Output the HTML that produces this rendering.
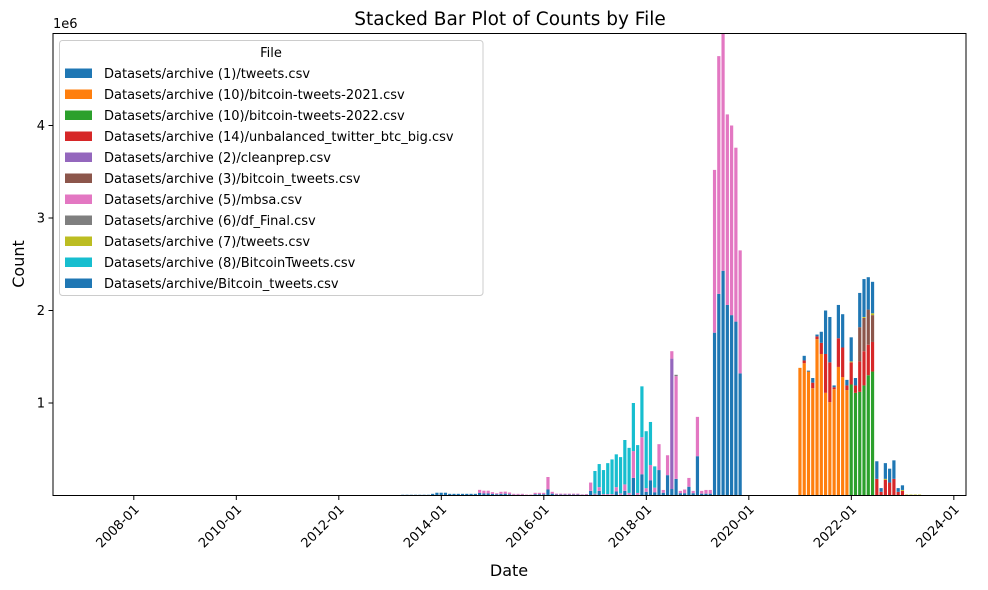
<!DOCTYPE html>
<html><head><meta charset="utf-8"><style>
html,body{margin:0;padding:0;background:#fff;}
svg{display:block;font-family:"DejaVu Sans","Liberation Sans",sans-serif;}
</style></head><body>
<svg id="chart" width="988" height="590" viewBox="0 0 988 590" xmlns="http://www.w3.org/2000/svg">
<rect width="988" height="590" fill="#fff"/>
<text x="510" y="25" font-size="18.5" text-anchor="middle">Stacked Bar Plot of Counts by File</text>
<text x="53" y="28" font-size="13">1e6</text>
<defs><clipPath id="plotclip"><rect x="53" y="33.5" width="913" height="462"/></clipPath></defs>
<g id="bars" clip-path="url(#plotclip)"></g>
<rect x="53" y="33.5" width="913" height="462" fill="none" stroke="#000" stroke-width="1"/>
<g id="xaxis"></g>
<g id="yaxis"></g>
<text x="509" y="576" font-size="16" text-anchor="middle">Date</text>
<text x="24" y="264" font-size="16" text-anchor="middle" transform="rotate(-90 24 264)">Count</text>
<g id="legend"></g>
</svg>
<script>
// ---- data (values in thousands), months start 2013-03, 122 months ----
const startYear = 2013, startMonth = 3, monthCount = 122;
const seriesNames = ["Datasets/archive (1)/tweets.csv","Datasets/archive (10)/bitcoin-tweets-2021.csv","Datasets/archive (10)/bitcoin-tweets-2022.csv","Datasets/archive (14)/unbalanced_twitter_btc_big.csv","Datasets/archive (2)/cleanprep.csv","Datasets/archive (3)/bitcoin_tweets.csv","Datasets/archive (5)/mbsa.csv","Datasets/archive (6)/df_Final.csv","Datasets/archive (7)/tweets.csv","Datasets/archive (8)/BitcoinTweets.csv","Datasets/archive/Bitcoin_tweets.csv"];
const seriesColors = ["#1f77b4","#ff7f0e","#2ca02c","#d62728","#9467bd","#8c564b","#e377c2","#7f7f7f","#bcbd22","#17becf","#1f77b4"];
const yTicks = [1,2,3,4];
const xTickLabels = ["2008-01","2010-01","2012-01","2014-01","2016-01","2018-01","2020-01","2022-01","2024-01"];
const s0 = [8,8,8,8,8,8,8,18,30,30, 30,18,18,18,18,18,18,18,28,22, 22,18,14,18,20,14,8,8,8,5, 5,14,14,14,65,20,10,10,10,10, 10,10,8,8,50,10,50,8,8,8, 45,8,50,8,190,8,230,40,165,35, 275,30,220,70,180,25,25,95,25,425, 20,20,20,1760,2180,2430,2060,1950,1880,1320, 0,0,0,0,0,0,0,0,0,0, 0,0,0,0,0,0,0,0,0,0, 0,0,0,0,0,0,0,0,0,0, 0,0,0,0,0,0,0,0,0,0, 0,0];
const s1 = [0,0,0,0,0,0,0,0,0,0, 0,0,0,0,0,0,0,0,0,0, 0,0,0,0,0,0,0,0,0,0, 0,0,0,0,0,0,0,0,0,0, 0,0,0,0,0,0,0,0,0,0, 0,0,0,0,0,0,0,0,0,0, 0,0,0,0,0,0,0,0,0,0, 0,0,0,0,0,0,0,0,0,0, 0,0,0,0,0,0,0,0,0,0, 0,0,0,1380,1430,1340,1160,1690,1530,1110, 1010,1150,1390,1280,1140,0,0,0,0,0, 0,0,0,0,0,0,0,0,0,0, 0,0];
const s2 = [0,0,0,0,0,0,0,0,0,0, 0,0,0,0,0,0,0,0,0,0, 0,0,0,0,0,0,0,0,0,0, 0,0,0,0,0,0,0,0,0,0, 0,0,0,0,0,0,0,0,0,0, 0,0,0,0,0,0,0,0,0,0, 0,0,0,0,0,0,0,0,0,0, 0,0,0,0,0,0,0,0,0,0, 0,0,0,0,0,0,0,0,0,0, 0,0,0,0,0,0,0,0,0,0, 0,0,0,0,0,1200,1110,1120,1190,1300, 1340,0,0,0,0,0,0,0,0,0, 0,0];
const s3 = [0,0,0,0,0,0,0,0,0,0, 0,0,0,0,0,0,0,0,0,0, 0,0,0,0,0,0,0,0,0,0, 0,0,0,0,0,0,0,0,0,0, 0,0,0,0,0,0,0,0,0,0, 0,0,0,0,0,0,0,0,0,0, 0,0,0,0,0,0,0,0,0,0, 0,0,0,0,0,0,0,0,0,0, 0,0,0,0,0,0,0,0,0,0, 0,0,0,0,30,0,60,30,120,420, 430,20,310,320,50,240,80,330,370,330, 320,180,40,170,140,180,40,50,0,0, 0,0];
const s4 = [0,0,0,0,0,0,0,0,0,0, 0,0,0,0,0,0,0,0,0,0, 0,0,0,0,0,0,0,0,0,0, 0,0,0,0,0,0,0,0,0,0, 0,0,0,0,0,0,0,0,0,0, 0,0,0,0,0,0,0,0,0,0, 0,0,0,1410,0,0,0,0,0,0, 0,0,0,0,0,0,0,0,0,0, 0,0,0,0,0,0,0,0,0,0, 0,0,0,0,0,0,0,0,0,0, 0,0,0,0,0,0,0,0,0,0, 0,0,0,0,0,0,0,0,0,0, 0,0];
const s5 = [0,0,0,0,0,0,0,0,0,0, 0,0,0,0,0,0,0,0,0,0, 0,0,0,0,0,0,0,0,0,0, 0,0,0,0,0,0,0,0,0,0, 0,0,0,0,0,0,0,0,0,0, 0,0,0,0,0,0,0,0,0,0, 0,0,0,0,0,0,0,0,0,0, 0,0,0,0,0,0,0,0,0,0, 0,0,0,0,0,0,0,0,0,0, 0,0,0,0,0,0,0,0,0,0, 0,0,0,0,0,0,0,370,360,380, 290,0,0,0,0,0,0,0,0,0, 0,0];
const s6 = [0,0,0,0,0,0,0,0,0,0, 0,0,0,0,0,0,0,0,33,30, 30,18,10,22,22,18,10,10,10,5, 5,15,15,15,135,20,10,10,10,10, 10,10,5,8,90,10,40,8,8,8, 45,15,70,20,290,20,400,40,165,50, 280,30,215,80,1110,25,40,95,25,425, 30,40,40,1760,2570,2600,2060,2050,1880,1330, 0,0,0,0,0,0,0,0,0,0, 0,0,0,0,0,0,0,0,0,0, 0,0,0,0,0,0,0,0,0,0, 0,0,0,0,0,0,0,0,0,0, 0,0];
const s7 = [0,0,0,0,0,0,0,0,0,0, 0,0,0,0,0,0,0,0,0,0, 0,0,0,0,0,0,0,0,0,0, 0,0,0,0,0,0,0,0,0,0, 0,0,0,0,0,0,0,0,0,0, 0,0,0,0,0,0,0,0,0,0, 0,0,0,0,15,0,0,0,0,0, 0,0,0,0,0,0,0,0,0,0, 0,0,0,0,0,0,0,0,0,0, 0,0,0,0,0,0,0,0,0,0, 0,0,0,0,0,0,0,0,0,0, 0,0,0,0,0,0,0,0,0,0, 0,0];
const s8 = [0,0,0,0,0,0,0,0,0,0, 0,0,0,0,0,0,0,0,0,0, 0,0,0,0,0,0,0,0,0,0, 0,0,0,0,0,0,0,0,0,0, 0,0,0,0,0,0,0,0,0,0, 0,0,0,0,0,0,0,0,0,0, 0,0,0,0,0,0,0,0,0,0, 0,0,0,0,0,0,0,0,0,0, 0,0,0,0,0,0,0,0,0,0, 0,0,0,0,0,0,0,0,0,0, 0,0,0,0,0,10,0,0,10,0, 20,0,0,10,0,0,0,10,10,10, 10,10];
const s9 = [0,0,0,0,0,0,0,0,0,0, 0,0,0,0,0,0,0,0,0,0, 0,0,0,0,0,0,0,0,0,0, 0,0,0,0,0,0,0,0,0,0, 0,0,0,0,0,245,250,259,334,374, 355,392,480,487,520,517,550,615,465,230, 0,0,0,0,0,0,0,0,0,0, 0,0,0,0,0,0,0,0,0,0, 0,0,0,0,0,0,0,0,0,0, 0,0,0,0,0,0,0,0,0,0, 0,0,0,0,0,0,0,0,0,0, 0,0,0,0,0,0,0,0,0,0, 0,0];
const s10 = [0,0,0,0,0,0,0,0,0,0, 0,0,0,0,0,0,0,0,0,0, 0,0,0,0,0,0,0,0,0,0, 0,0,0,0,0,0,0,0,0,0, 0,0,0,0,0,0,0,0,0,0, 0,0,0,0,0,0,0,0,0,0, 0,0,0,0,0,0,0,0,0,0, 0,0,0,0,0,0,0,0,0,0, 0,0,0,0,0,0,0,0,0,0, 0,0,0,0,50,10,50,20,120,470, 490,20,360,360,60,260,80,370,410,350, 340,190,40,170,150,200,40,50,0,0, 0,0];
const seriesValues = [s0,s1,s2,s3,s4,s5,s6,s7,s8,s9,s10];

const NS = "http://www.w3.org/2000/svg";
function mk(tag, attrs){const e=document.createElementNS(NS,tag);for(const k in attrs)e.setAttribute(k,attrs[k]);return e;}
function xScale(k){return 133.8 + k*4.271;}
function yScale(vThousands){return 495.5 - vThousands/1000*92.5;}

const barsG = document.getElementById('bars');
for(let i=0;i<monthCount;i++){
  const k = (startYear-2008)*12 + (startMonth-1) + i + 0.97;
  let base = 0;
  for(let s=0;s<seriesValues.length;s++){
    const v = seriesValues[s][i];
    if(!v) continue;
    const y1 = yScale(base), y2 = yScale(base+v);
    const r = mk('rect',{x:(xScale(k)-1.6).toFixed(2), y:y2.toFixed(2), width:3.2, height:(y1-y2).toFixed(2), fill:seriesColors[s]});
    
    
    barsG.appendChild(r);
    base += v;
  }
}
const xg = document.getElementById('xaxis');
xTickLabels.forEach((lab, j)=>{
  const yr = parseInt(lab.slice(0,4)), mo = parseInt(lab.slice(5,7));
  const x = xScale((yr-2008)*12 + mo-1);
  const t = mk('line',{x1:x,y1:495.5,x2:x,y2:500,stroke:'#000','stroke-width':1});
  
  
  xg.appendChild(t);
  const tx = mk('text',{x:x+6,y:510,'font-size':13,'text-anchor':'end',transform:`rotate(-45 ${x+6} 510)`});
  
  
  tx.textContent = lab;
  xg.appendChild(tx);
});
const yg = document.getElementById('yaxis');
yTicks.forEach(v=>{
  const y = yScale(v*1000);
  const t = mk('line',{x1:48.5,y1:y,x2:53,y2:y,stroke:'#000','stroke-width':1});
  
  
  yg.appendChild(t);
  const tx = mk('text',{x:45,y:y+4.5,'font-size':13,'text-anchor':'end'});
  
  
  tx.textContent = String(v);
  yg.appendChild(tx);
});
const lg = document.getElementById('legend');
const box = mk('rect',{x:59.5,y:40.5,width:423.5,height:255,rx:3,fill:'#fff','fill-opacity':0.8,stroke:'#ccc','stroke-width':1});


lg.appendChild(box);
const lt = mk('text',{x:271,y:57,'font-size':13,'text-anchor':'middle'});


lt.textContent = 'File';
lg.appendChild(lt);
seriesNames.forEach((n,s)=>{
  const y = 73.5 + s*21;
  const g = mk('g',{});
  
  
  g.appendChild(mk('rect',{x:65,y:y-5,width:27,height:9.5,fill:seriesColors[s]}));
  const tx = mk('text',{x:104,y:y+4.5,'font-size':13});
  tx.textContent = n;
  g.appendChild(tx);
  lg.appendChild(g);
});
</script>
</body></html>
